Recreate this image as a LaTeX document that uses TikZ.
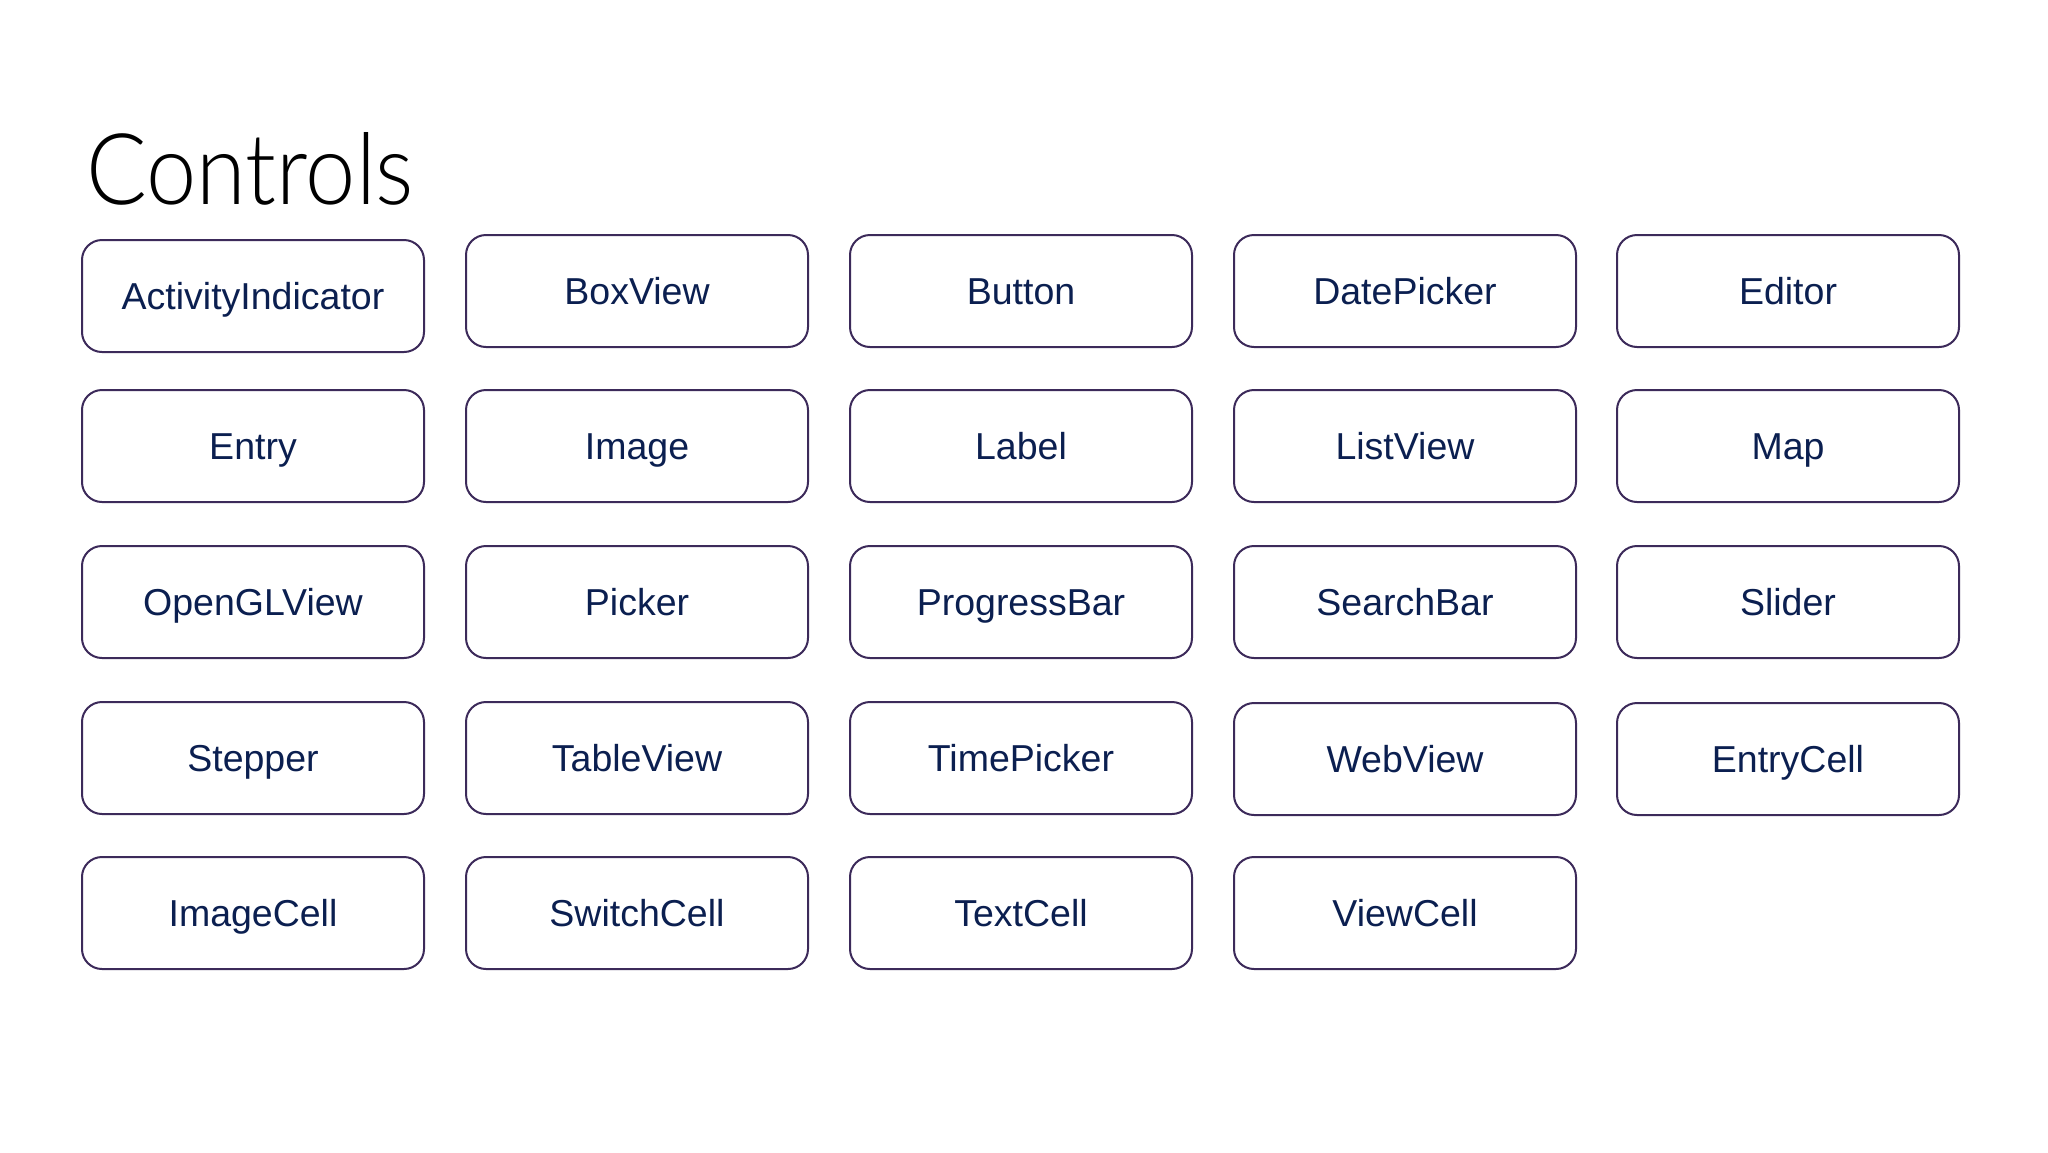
\documentclass[tikz,border=0pt]{standalone}
\usepackage{fontspec}
\setmainfont{Liberation Sans}
\newfontfamily\titlefont[FakeStretch=0.91]{Lato Light}
\definecolor{boxline}{HTML}{3C2A5A}
\definecolor{boxtext}{HTML}{0B1F50}
\begin{document}
\begin{tikzpicture}[x=1pt,y=-1pt,
  ctrl/.style={draw=boxline, line width=2pt, rounded corners=20pt, fill=white,
    minimum width=342pt, minimum height=112pt, inner sep=0pt,
    text height=26.5pt, text depth=0pt,
    text=boxtext, font=\fontsize{37.5}{45}\selectfont}]
\useasboundingbox (0,0) rectangle (2048,1152);
\fill[white] (0,0) rectangle (2048,1152);
\node[anchor=base west, inner sep=0pt, font=\titlefont\fontsize{99}{120}\selectfont] (title) at (86,204) {Controls};
% row 1
\node[ctrl] (activityindicator) at (253,296) {ActivityIndicator};
\node[ctrl] (boxview) at (637,291) {BoxView};
\node[ctrl] (button) at (1021,291) {Button};
\node[ctrl] (datepicker) at (1405,291) {DatePicker};
\node[ctrl] (editor) at (1788,291) {Editor};
% row 2
\node[ctrl] (entry) at (253,446) {Entry};
\node[ctrl] (image) at (637,446) {Image};
\node[ctrl] (label) at (1021,446) {Label};
\node[ctrl] (listview) at (1405,446) {ListView};
\node[ctrl] (map) at (1788,446) {Map};
% row 3
\node[ctrl] (openglview) at (253,602) {OpenGLView};
\node[ctrl] (picker) at (637,602) {Picker};
\node[ctrl] (progressbar) at (1021,602) {ProgressBar};
\node[ctrl] (searchbar) at (1405,602) {SearchBar};
\node[ctrl] (slider) at (1788,602) {Slider};
% row 4
\node[ctrl] (stepper) at (253,758) {Stepper};
\node[ctrl] (tableview) at (637,758) {TableView};
\node[ctrl] (timepicker) at (1021,758) {TimePicker};
\node[ctrl] (webview) at (1405,759) {WebView};
\node[ctrl] (entrycell) at (1788,759) {EntryCell};
% row 5
\node[ctrl] (imagecell) at (253,913) {ImageCell};
\node[ctrl] (switchcell) at (637,913) {SwitchCell};
\node[ctrl] (textcell) at (1021,913) {TextCell};
\node[ctrl] (viewcell) at (1405,913) {ViewCell};
\end{tikzpicture}
\end{document}
